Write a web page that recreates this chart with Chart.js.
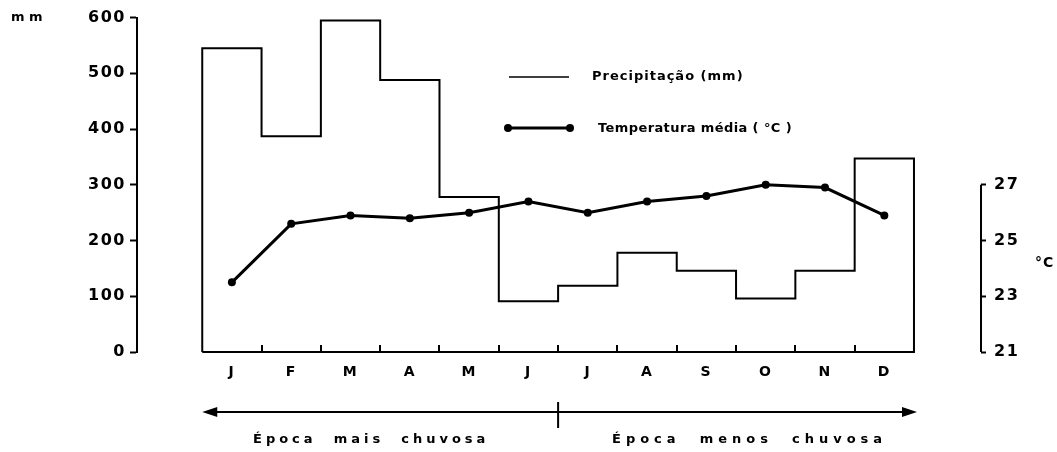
<!DOCTYPE html>
<html>
<head>
<meta charset="utf-8">
<title>Precipitação e temperatura média</title>
<script src="https://cdn.jsdelivr.net/npm/chart.js@4"></script>
<style>
  html, body { margin: 0; padding: 0; background: #fff; }
  #wrap { width: 1057px; height: 452px; }
</style>
</head>
<body>
<div id="wrap"><canvas id="climateChart" width="1057" height="452"></canvas></div>
<script>
// Monthly values
const months = ['J', 'F', 'M', 'A', 'M', 'J', 'J', 'A', 'S', 'O', 'N', 'D'];
const precipMm = [545, 387, 595, 488, 278, 91, 119, 178, 146, 96, 146, 347];
const tempC = [23.5, 25.6, 25.9, 25.8, 26.0, 26.4, 26.0, 26.4, 26.6, 27.0, 26.9, 25.9];
const mmTicks = [0, 100, 200, 300, 400, 500, 600];
const tempTicks = [21, 23, 25, 27];

const FONT = "'DejaVu Sans', sans-serif";
const INK = '#000';

/**
 * Build the outline of the precipitation steps (closed box on the baseline)
 */
function buildPrecipOutline() {
    const pts = [{ x: 0, y: 0 }];
    precipMm.forEach((v, i) => pts.push({ x: i, y: v }));
    pts.push({ x: months.length, y: 0 });
    pts.push({ x: 0, y: 0 });
    return pts;
}

function drawText(ctx, text, x, y, size, align, spacing) {
    ctx.save();
    ctx.font = 'bold ' + size + 'px ' + FONT;
    ctx.fillStyle = INK;
    ctx.textAlign = align || 'left';
    ctx.textBaseline = 'middle';
    ctx.letterSpacing = (spacing || 0) + 'px';
    ctx.fillText(text, x, y);
    ctx.restore();
}

// Extra decoration: inner month ticks, right axis bracket, legend, season arrow
const decorPlugin = {
    id: 'decor',
    beforeDraw(chart) {
        chart.ctx.letterSpacing = '1.5px';
    },
    afterDraw(chart) {
        const ctx = chart.ctx;
        const x = chart.scales.x;
        const y = chart.scales.y;
        const y2 = chart.scales.y2;
        const base = y.getPixelForValue(0);

        ctx.save();
        ctx.strokeStyle = INK;
        ctx.fillStyle = INK;
        ctx.lineWidth = 2;

        // month boundary ticks pointing up from the baseline
        for (let i = 1; i < months.length; i++) {
            const px = Math.round(x.getPixelForValue(i));
            ctx.beginPath();
            ctx.moveTo(px, base);
            ctx.lineTo(px, base - 7);
            ctx.stroke();
        }

        // right temperature axis line (21 to 27 only)
        ctx.beginPath();
        ctx.moveTo(y2.left, y2.getPixelForValue(tempTicks[0]));
        ctx.lineTo(y2.left, y2.getPixelForValue(tempTicks[tempTicks.length - 1]));
        ctx.stroke();

        // legend
        ctx.lineWidth = 1.5;
        ctx.beginPath();
        ctx.moveTo(509, 77);
        ctx.lineTo(569, 77);
        ctx.stroke();
        ctx.lineWidth = 3;
        ctx.beginPath();
        ctx.moveTo(508, 128);
        ctx.lineTo(570, 128);
        ctx.stroke();
        [508, 570].forEach(px => {
            ctx.beginPath();
            ctx.arc(px, 128, 4, 0, Math.PI * 2);
            ctx.fill();
        });

        // season arrow
        const left = x.getPixelForValue(0);
        const right = x.getPixelForValue(12) + 3;
        const mid = x.getPixelForValue(6);
        const ay = 412;
        ctx.lineWidth = 2;
        ctx.beginPath();
        ctx.moveTo(left + 6, ay);
        ctx.lineTo(right - 6, ay);
        ctx.moveTo(mid, ay - 10);
        ctx.lineTo(mid, ay + 16);
        ctx.stroke();
        ctx.beginPath();
        ctx.moveTo(left, ay);
        ctx.lineTo(left + 15, ay - 5);
        ctx.lineTo(left + 15, ay + 5);
        ctx.closePath();
        ctx.fill();
        ctx.beginPath();
        ctx.moveTo(right, ay);
        ctx.lineTo(right - 15, ay - 5);
        ctx.lineTo(right - 15, ay + 5);
        ctx.closePath();
        ctx.fill();
        ctx.restore();

        drawText(ctx, 'Precipitação (mm)', 592, 77, 13, 'left', 1);
        drawText(ctx, 'Temperatura média ( °C )', 598, 129, 13, 'left', 0.4);
        drawText(ctx, 'Época  mais  chuvosa', 253, 440, 13, 'left', 4);
        drawText(ctx, 'Época  menos  chuvosa', 612, 440, 13, 'left', 5);
        drawText(ctx, 'm m', 11, 18, 13, 'left', 0);
        drawText(ctx, '°C', 1035, 263, 14, 'left', 1);
    }
};

const ctx = document.getElementById('climateChart');

new Chart(ctx.getContext('2d'), {
    type: 'line',
    data: {
        datasets: [
            {
                label: 'Precipitação (mm)',
                data: buildPrecipOutline(),
                yAxisID: 'y',
                stepped: 'before',
                borderColor: INK,
                borderWidth: 2,
                pointRadius: 0,
                fill: false,
                clip: false
            },
            {
                label: 'Temperatura média (°C)',
                data: tempC.map((t, i) => ({ x: i + 0.5, y: t })),
                yAxisID: 'y2',
                borderColor: INK,
                backgroundColor: INK,
                borderWidth: 3,
                pointRadius: 4,
                pointBackgroundColor: INK,
                pointBorderWidth: 0,
                tension: 0,
                fill: false,
                clip: false
            }
        ]
    },
    options: {
        responsive: false,
        animation: false,
        devicePixelRatio: 1,
        layout: { padding: { top: 15, left: 0, right: 0, bottom: 0 } },
        plugins: {
            legend: { display: false },
            tooltip: { enabled: false }
        },
        scales: {
            x: {
                type: 'linear',
                min: -1.1,
                max: 13.13,
                afterBuildTicks: scale => {
                    scale.ticks = months.map((m, i) => ({ value: i + 0.5 }));
                },
                afterFit: scale => { scale.height = 100; },
                grid: { display: false, drawTicks: false },
                border: { display: false },
                ticks: {
                    padding: 12,
                    color: INK,
                    font: { family: FONT, size: 14, weight: 'bold' },
                    callback: (v, i) => months[i]
                }
            },
            y: {
                position: 'left',
                min: 0,
                max: 600,
                afterBuildTicks: scale => {
                    scale.ticks = mmTicks.map(v => ({ value: v }));
                },
                afterFit: scale => { scale.width = 137; },
                grid: {
                    drawOnChartArea: false,
                    tickLength: 7,
                    tickColor: INK,
                    tickWidth: 2
                },
                border: { display: true, color: INK, width: 2 },
                ticks: {
                    padding: 4,
                    color: INK,
                    font: { family: FONT, size: 16, weight: 'bold' }
                }
            },
            y2: {
                position: 'right',
                min: 21,
                max: 33,
                afterBuildTicks: scale => {
                    scale.ticks = tempTicks.map(v => ({ value: v }));
                },
                afterFit: scale => { scale.width = 76; },
                grid: {
                    drawOnChartArea: false,
                    tickLength: 5,
                    tickColor: INK,
                    tickWidth: 2
                },
                border: { display: false },
                ticks: {
                    padding: 8,
                    color: INK,
                    font: { family: FONT, size: 16, weight: 'bold' }
                }
            }
        }
    },
    plugins: [decorPlugin]
});
</script>
</body>
</html>
